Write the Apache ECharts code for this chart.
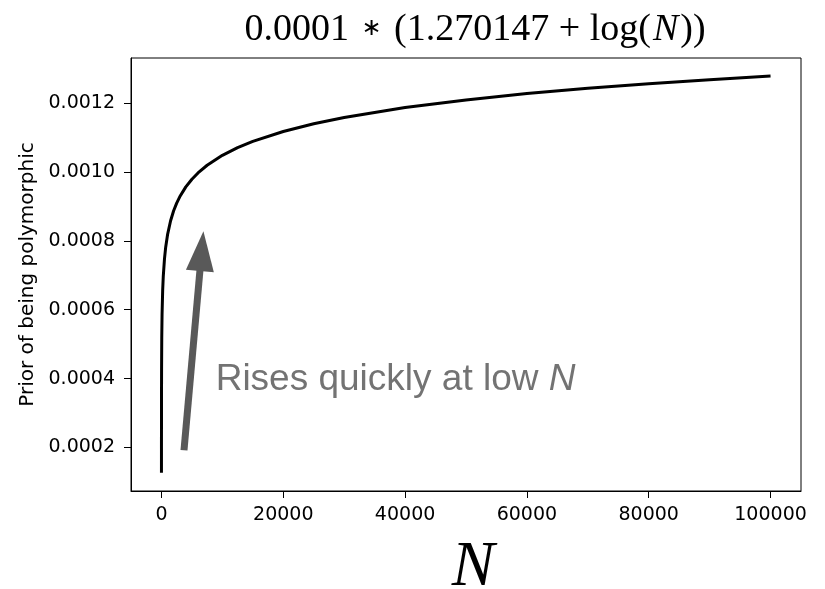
<!DOCTYPE html>
<html>
<head>
<meta charset="utf-8">
<script src="https://cdn.jsdelivr.net/npm/echarts@6/dist/echarts.min.js"></script>
<style>html,body{margin:0;padding:0;background:#fff;}#c{width:825px;height:589px;}</style>
</head>
<body>
<div id="c"></div>
<script>
// Values
var nValues = [1, 2, 5, 10, 20, 50, 100, 200, 300, 500, 700, 1000, 1500, 2000, 2500, 3000, 4000, 5000, 6000, 7500, 10000, 12500, 15000, 20000, 25000, 30000, 40000, 50000, 60000, 70000, 80000, 90000, 100000];
var priorValues = [0.00012701, 0.00019633, 0.00028796, 0.00035727, 0.00042659, 0.00051822, 0.00058753, 0.00065685, 0.00069739, 0.00074848, 0.00078212, 0.00081779, 0.00085833, 0.00088711, 0.00090941, 0.00092766, 0.00095641, 0.00097874, 0.00099696, 0.00101929, 0.00104805, 0.00107036, 0.0010886, 0.00111736, 0.00113967, 0.00115791, 0.00118668, 0.00120899, 0.00122722, 0.00124264, 0.00125599, 0.00126777, 0.00127831];
var xTicks = [0, 20000, 40000, 60000, 80000, 100000];
var yTicks = [0.0002, 0.0004, 0.0006, 0.0008, 0.0010, 0.0012];
var arrowFrom = [3700, 0.000192];
var arrowTo = [6600, 0.00077];
var annotationPos = [8900, 0.000397];
var annotationText = 'Rises quickly at low ';
var titleParts = ['0.0001 ', '\u2217', ' (1.270147 + log(', 'N', '))'];

var chart = echarts.init(document.getElementById('c'));
var curve = nValues.map(function (n, i) { return [n, priorValues[i]]; });

chart.setOption({
  animation: false,
  backgroundColor: '#ffffff',
  title: {
    text: '{a|' + titleParts[0] + '}{c|' + titleParts[1] + '}{a|' + titleParts[2] + '}{b|' + titleParts[3] + '}{a|' + titleParts[4] + '}',
    left: 470,
    top: 3,
    textAlign: 'center',
    textStyle: {
      fontWeight: 'normal',
      rich: {
        a: { fontFamily: 'Liberation Serif', fontWeight: 'normal', fontSize: 38, color: '#000', lineHeight: 45 },
        b: { fontFamily: 'Liberation Serif', fontWeight: 'normal', fontStyle: 'italic', fontSize: 38, color: '#000', lineHeight: 45, padding: [0, 2, 0, 2] },
        c: { fontFamily: 'DejaVu Sans', fontWeight: 'normal', fontSize: 24, color: '#000', lineHeight: 45, padding: [0, 3, 4, 3] }
      }
    }
  },
  grid: {
    left: 131, right: 24, top: 58, bottom: 98,
    outerBoundsMode: 'none',
    containLabel: false,
    show: true, borderColor: '#000', borderWidth: 1, backgroundColor: 'transparent'
  },
  xAxis: {
    type: 'value',
    min: -5000, max: 105000,
    name: 'N',
    nameLocation: 'middle',
    nameGap: 45,
    nameTextStyle: { fontFamily: 'Liberation Serif', fontStyle: 'italic', fontSize: 64, color: '#000', padding: [0, 0, 0, 14] },
    axisLine: { show: true, onZero: false, lineStyle: { color: '#000', width: 1 } },
    axisTick: { show: true, length: 7, customValues: xTicks, lineStyle: { color: '#000' } },
    axisLabel: {
      customValues: xTicks, margin: 15, color: '#000',
      fontFamily: 'DejaVu Sans', fontSize: 19,
      formatter: function (v) { return String(v); }
    },
    splitLine: { show: false }
  },
  yAxis: {
    type: 'value',
    min: 0.0000737, max: 0.0013306,
    name: 'Prior of being polymorphic',
    nameLocation: 'middle',
    nameGap: 92,
    nameTextStyle: { fontFamily: 'DejaVu Sans', fontSize: 20, color: '#000' },
    axisLine: { show: true, onZero: false, lineStyle: { color: '#000', width: 1 } },
    axisTick: { show: true, length: 7, customValues: yTicks, lineStyle: { color: '#000' } },
    axisLabel: {
      customValues: yTicks, margin: 16, color: '#000',
      fontFamily: 'DejaVu Sans', fontSize: 19,
      formatter: function (v) { return v.toFixed(4); }
    },
    splitLine: { show: false }
  },
  series: [
    {
      type: 'line',
      data: curve,
      showSymbol: false,
      smooth: false,
      lineStyle: { color: '#000', width: 3 },
      z: 3
    },
    {
      type: 'scatter',
      data: [annotationPos],
      symbolSize: 0,
      silent: true,
      label: {
        show: true,
        position: 'right',
        distance: 0,
        formatter: '{a|' + annotationText + '}{b|N}',
        rich: {
          a: { fontFamily: 'Liberation Sans', fontSize: 37, color: '#505050' },
          b: { fontFamily: 'Liberation Sans', fontStyle: 'italic', fontSize: 37, color: '#505050' }
        }
      },
      markLine: {
        silent: true,
        symbol: ['none', 'triangle'],
        symbolSize: [28, 40],
        label: { show: false },
        lineStyle: { color: '#595959', width: 7, type: 'solid' },
        data: [[{ coord: arrowFrom }, { coord: arrowTo }]]
      }
    }
  ]
});
</script>
</body>
</html>
